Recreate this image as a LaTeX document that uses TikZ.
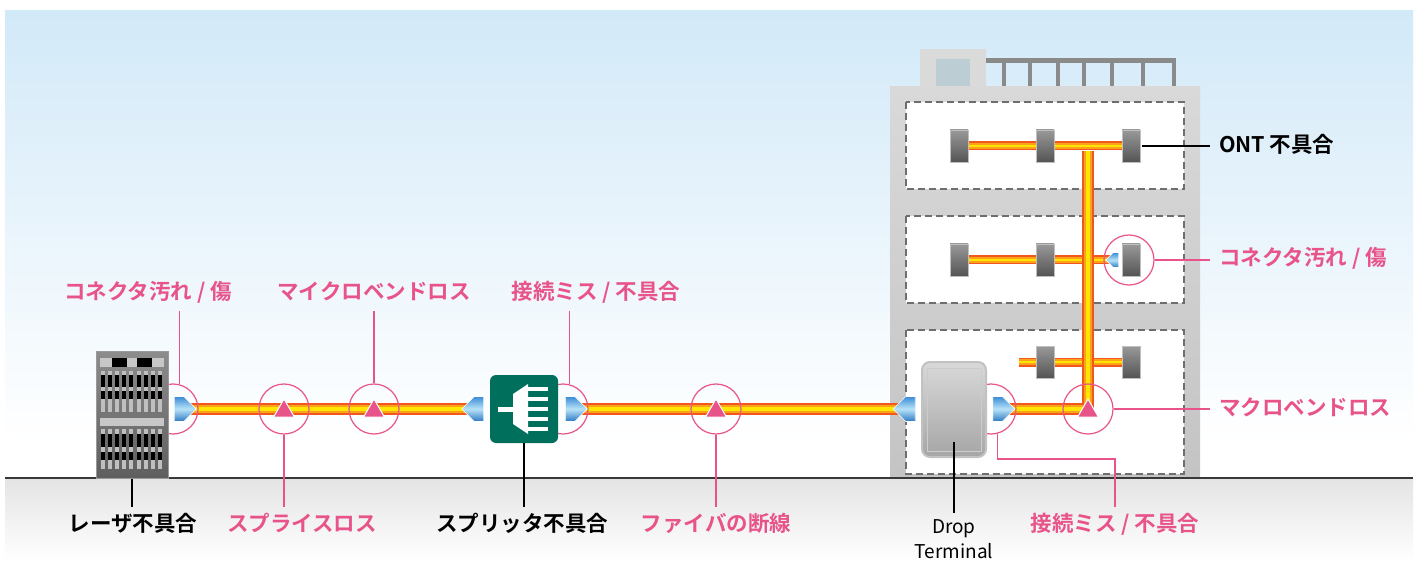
\documentclass[tikz,border=0pt]{standalone}
\usepackage{fontspec}
\setmainfont{Noto Sans CJK JP}[BoldFont={Noto Sans CJK JP Bold}]
\usetikzlibrary{shapes.geometric, shapes.symbols}

\definecolor{skyblue}{HTML}{D2E9F8}
\definecolor{groundgray}{HTML}{E4E4E4}
\definecolor{walltop}{HTML}{D9D9D9}
\definecolor{wallbot}{HTML}{C4C4C4}
\definecolor{roofgray}{HTML}{DADADA}
\definecolor{windowgray}{HTML}{BCCDD4}
\definecolor{railgray}{HTML}{8A8A8A}
\definecolor{floorline}{HTML}{6E6E6E}
\definecolor{faultpink}{HTML}{E8538A}
\definecolor{splitgreen}{HTML}{00705D}
\definecolor{jackblue}{HTML}{3A8CD6}
\definecolor{jacklight}{HTML}{B8E3F8}
\definecolor{jackdark}{HTML}{2C78C4}
\definecolor{fibred}{HTML}{F2581C}
\definecolor{fiborange}{HTML}{FAA21A}
\definecolor{fibyellow}{HTML}{FFE500}

\tikzstyle{fiber} = [line width=12pt, draw=fibred, postaction={draw=fiborange, line width=8pt},
postaction={draw=fibyellow, line width=3.5pt}]
\tikzstyle{thinfiber} = [line width=9pt, draw=fibred, postaction={draw=fiborange, line width=6pt},
postaction={draw=fibyellow, line width=2.5pt}]
\tikzstyle{floor} = [draw=floorline, fill=white, line width=1.5pt, dash pattern=on 7pt off 4pt]
\tikzstyle{rack} = [rectangle, minimum width=72, minimum height=127, inner sep=0,
top color=black!45, bottom color=black!63, draw=black!40, line width=1pt]
\tikzstyle{splitter} = [rectangle, rounded corners=6pt, minimum size=68, inner sep=0, fill=splitgreen]
\tikzstyle{dropbox} = [rectangle, rounded corners=8pt, minimum width=64, minimum height=95, inner sep=0,
top color=black!15, bottom color=black!35, draw=black!24, line width=2pt]
\tikzstyle{ont} = [rectangle, minimum width=18, minimum height=32, inner sep=0,
top color=black!40, bottom color=black!67, draw=black!25, line width=.6pt]
\tikzstyle{jack} = [signal, minimum width=22, minimum height=25, inner sep=0, draw=white, line width=.6pt,
top color=jackblue, bottom color=jackdark, middle color=jacklight]
\tikzstyle{fault} = [circle, draw=faultpink, line width=1.2pt, minimum size=50, inner sep=0]
\tikzstyle{lossmark} = [regular polygon, regular polygon sides=3, minimum size=24, inner sep=0,
fill=faultpink, draw=white, line width=1pt]
\tikzstyle{faultlabel} = [text=faultpink, font=\bfseries\fontsize{21.5}{25}\selectfont,
text height=16pt, text depth=3pt, inner sep=0, outer sep=9pt]
\tikzstyle{partlabel} = [faultlabel, text=black]
\tikzstyle{leader} = [faultpink, line width=1.2pt]
\tikzstyle{partline} = [black, line width=1.2pt]

\pgfdeclarelayer{scenery}
\pgfdeclarelayer{cable}
\pgfsetlayers{scenery,cable,main}

\begin{document}
\begin{tikzpicture}[x=1pt, y=-1pt]
\useasboundingbox (0,0) rectangle (1419,561);

% ------------------------- scenery -------------------------
\begin{pgfonlayer}{scenery}
\fill[white] (0,0) rectangle (1419,561);
\fill[top color=skyblue, bottom color=white] (5,11) rectangle (1413,440);
\fill[top color=groundgray, bottom color=white] (5,478) rectangle (1413,561);
% ----- building
\fill[roofgray] (920,49) rectangle (986,87);
\fill[windowgray] (936,59) rectangle (970,87);
\fill[railgray] (986,58) rectangle (1176,63);
\foreach \x in {1004,1030,1058,1084,1112,1143,1174}
  \fill[railgray] (\x-2,63) rectangle (\x+2,87);
\fill[top color=walltop, bottom color=wallbot] (890,87) rectangle (1200,478);
\foreach \top/\bot in {102/189, 216/303, 330/474}
  \draw[floor] (906,\top) rectangle (1184,\bot);
\draw[line width=1.5pt, black!78] (5,478) -- (1413,478);
\end{pgfonlayer}

% ------------------------- nodes -------------------------

% ----- fault circles (behind the devices)
\node(lc)[fault] at (173,409) {};
\node(sp)[fault] at (284,409) {};
\node(mb)[fault] at (374,409) {};
\node(sc)[fault] at (563,409) {};
\node(br)[fault] at (716,409) {};
\node(dc)[fault] at (991,409) {};
\node(mc)[fault] at (1088,409) {};
\node(cc)[fault] at (1129,260) {};

% ----- node: laser rack
\node(laser)[rack] at (132,414.5) {};
\fill[black!22] (100,358) rectangle (164,367);
\fill[black] (112,358) rectangle (127,367);
\fill[black] (137,358) rectangle (152,367);
\fill[black!22] (100,418) rectangle (164,426);
\foreach \i [evaluate=\i as \xa using 101+7.1*\i] in {0,...,8} {
  \fill[black!25] (\xa,371) rectangle ++(4,41);
  \fill[black] (\xa,375) rectangle ++(4,12);
  \fill[black] (\xa,391) rectangle ++(4,8);
  \fill[black!25] (\xa,429) rectangle ++(4,40);
  \fill[black] (\xa,434) rectangle ++(4,13);
  \fill[black] (\xa,452) rectangle ++(4,8);
}
\node(sj)[jack, signal to=east] at (179,409) {};

% ----- node: splitter
\node(split)[splitter] at (524,409) {};
\begin{scope}[shift={(524,409)}]
\fill[white] (-26,-2.5) rectangle (-10,2.5);
\fill[white] (-11,-15) -- (4,-25) -- (4,25) -- (-11,15) -- cycle;
\foreach \y in {-20,-10,0,10,20}
  \fill[white] (3,\y-2.3) rectangle (24,\y+2.3);
\end{scope}
\node(spjL)[jack, signal to=west] at (479,409) {};
\node(spjR)[jack, signal to=east] at (570,409) {};

% ----- node: drop terminal
\node(dterm)[dropbox] at (954,409.5) {};
\draw[white!80!black, line width=1pt] (927,368) rectangle (981,451);
\node(dtjL)[jack, signal to=west] at (910.5,409) {};
\node(dtjR)[jack, signal to=east] at (997.5,409) {};

% ----- nodes: ONT on each floor
\node(ont31)[ont] at (959,146) {};
\node(ont32)[ont] at (1045,146) {};
\node(ont33)[ont] at (1131,146) {};
\node(ont21)[ont] at (959,260) {};
\node(ont22)[ont] at (1045,260) {};
\node(ont23)[ont] at (1131,260) {};
\node(ont12)[ont] at (1045,362) {};
\node(ont13)[ont] at (1131,362) {};
\node(oj)[jack, signal to=west, minimum width=13, minimum height=15] at (1116,260) {};
\coordinate (drop1) at (1019,362);
\coordinate (riserfoot) at (1088,409);
\coordinate (riserhead) at (1088,151);

% ----- loss markers
\node(spT)[lossmark] at (284,411) {};
\node(mbT)[lossmark] at (374,411) {};
\node(brT)[lossmark] at (716,411) {};
\node(mcT)[lossmark] at (1088,411) {};

% ------------------------- fibres -------------------------
\begin{pgfonlayer}{cable}
\draw[fiber](sj.center)--(spjL.center);
\draw[fiber](spjR.center)--(dtjL.center);
\draw[thinfiber](ont31.east)--(ont32.west);
\draw[thinfiber](ont32.east)--(ont33.west);
\draw[thinfiber](ont21.east)--(ont22.west);
\draw[thinfiber](ont22.east)--(oj.center);
\draw[thinfiber](drop1)--(ont12.west);
\draw[thinfiber](ont12.east)--(ont13.west);
\draw[fiber](dtjR.center)--(riserfoot)--(riserhead);
\end{pgfonlayer}

% ------------------------- labels -------------------------
\node(lcLab)[faultlabel] at (148,293) {コネクタ汚れ / 傷};
\node(mbLab)[faultlabel] at (374,293) {マイクロベンドロス};
\node(scLab)[faultlabel] at (596,293) {接続ミス / 不具合};
\node(laserLab)[partlabel] at (133,525) {レーザ不具合};
\node(spLab)[faultlabel] at (302,525) {スプライスロス};
\node(splitLab)[partlabel] at (522,525) {スプリッタ不具合};
\node(brLab)[faultlabel] at (716,525) {ファイバの断線};
\node(dtLab)[align=center, font=\fontsize{19}{24.5}\selectfont, inner sep=0, outer sep=7pt] at (954,539) {Drop\\Terminal};
\node(dcLab)[faultlabel] at (1115,525) {接続ミス / 不具合};
\node(ontLab)[partlabel, anchor=west] at (1210,146) {ONT 不具合};
\node(ccLab)[faultlabel, anchor=west] at (1210,259) {コネクタ汚れ / 傷};
\node(mcLab)[faultlabel, anchor=west] at (1210,409) {マクロベンドロス};

% ------------------------- connections -------------------------
\coordinate (dtTap) at (954,442);
\coordinate (dcBend) at (1115,459);
\draw[leader](lc.75)--(lc.75 |- lcLab.south);
\draw[leader](mb.north)--(mb.north |- mbLab.south);
\draw[leader](sc.76)--(sc.76 |- scLab.south);
\draw[partline](laser.south)--(laser.south |- laserLab.north);
\draw[leader](sp.south)--(sp.south |- spLab.north);
\draw[partline](split.south)--(split.south |- splitLab.north);
\draw[leader](br.south)--(br.south |- brLab.north);
\draw[partline](dtTap)--(dtTap |- dtLab.north);
\draw[leader](dc.284) |- (dcBend) -- (dcLab.north);
\draw[partline, shorten <=2pt](ont33.east)--(ont33.east -| ontLab.west);
\draw[leader](cc.east)--(cc.east -| ccLab.west);
\draw[leader](mc.east)--(mc.east -| mcLab.west);

\end{tikzpicture}
\end{document}
